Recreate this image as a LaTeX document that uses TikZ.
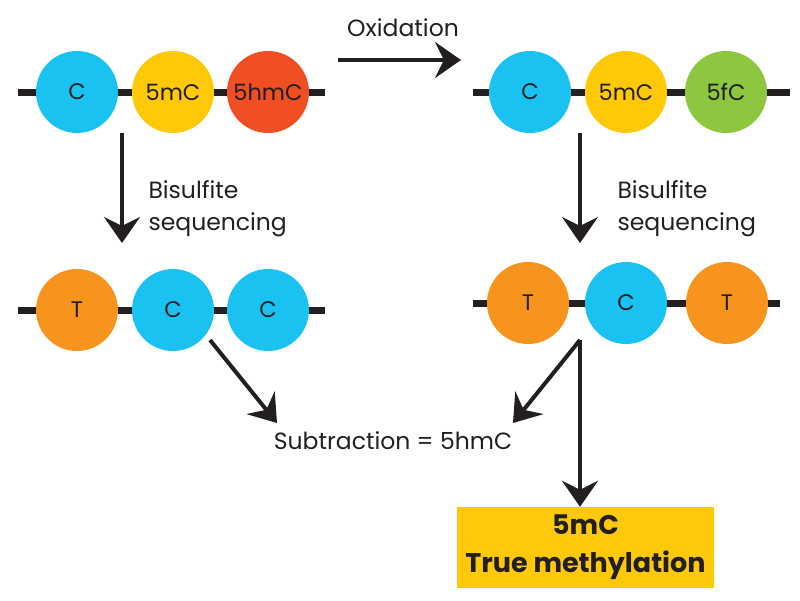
\documentclass[tikz,border=0pt]{standalone}
\usepackage{fontspec}
\setmainfont{Poppins}
\usetikzlibrary{arrows.meta}

\definecolor{ink}{HTML}{231F20}
\definecolor{cyanC}{HTML}{1AC2F2}
\definecolor{yellowC}{HTML}{FFC907}
\definecolor{redC}{HTML}{F04E23}
\definecolor{greenC}{HTML}{8DC63F}
\definecolor{orangeT}{HTML}{F7941D}
\definecolor{boxfill}{HTML}{FFC90B}

\begin{document}
\begin{tikzpicture}[x=1pt, y=-1pt, line cap=butt, line join=round,
  >={Stealth[length=26pt, width=36pt, inset=9pt]},
  base/.style={circle, minimum size=82pt, inner sep=0pt, text=ink,
    font=\fontsize{22.5}{26}\selectfont},
  strand/.style={line width=7pt, ink},
  arrow/.style={->, line width=4pt, ink},
  label/.style={text=ink, font=\fontsize{23.5}{32}\selectfont}]
\useasboundingbox (0,0) rectangle (800,600);

% --- Chuỗi ban đầu (trên trái) ---
\draw[strand] (18,92) -- (325,92);
\node[base, fill=cyanC]   (a1) at (77,92)  {C};
\node[base, fill=yellowC] (a2) at (173,92) {5mC};
\node[base, fill=redC]    (a3) at (268,92) {5hmC};

% --- Chuỗi sau oxy hoá (trên phải) ---
\draw[strand] (473,92) -- (790,92);
\node[base, fill=cyanC]   (b1) at (530,92) {C};
\node[base, fill=yellowC] (b2) at (626,92) {5mC};
\node[base, fill=greenC]  (b3) at (726,92) {5fC};

% --- Kết quả bisulfite (dưới trái) ---
\draw[strand] (18,310) -- (325,310);
\node[base, fill=orangeT] (c1) at (77,310)  {T};
\node[base, fill=cyanC]   (c2) at (173,310) {C};
\node[base, fill=cyanC]   (c3) at (268,310) {C};

% --- Kết quả oxBS (dưới phải) ---
\draw[strand] (473,303) -- (780,303);
\node[base, fill=orangeT] (d1) at (528,303) {T};
\node[base, fill=cyanC]   (d2) at (626,303) {C};
\node[base, fill=orangeT] (d3) at (727,303) {T};

% Mũi tên oxy hoá
\coordinate (oxS) at (338,60);
\coordinate (oxE) at (461,60);
\draw[arrow] (oxS) -- (oxE);
\node[label] (ox) at (403,28) {Oxidation};

% Mũi tên bisulfite
\coordinate (bsL1) at (122,133);
\coordinate (bsL2) at (122,243);
\draw[arrow] (bsL1) -- (bsL2);
\node[label, anchor=west, align=left] (bsl) at (145,209) {Bisulfite\\sequencing};

\coordinate (bsR1) at (580,133);
\coordinate (bsR2) at (580,243);
\draw[arrow] (bsR1) -- (bsR2);
\node[label, anchor=west, align=left] (bsr) at (614,209) {Bisulfite\\sequencing};

% Phép trừ
\node[label] (sub) at (393,441) {Subtraction = 5hmC};
\coordinate (sL) at (210,340);
\coordinate (sLE) at (277,423);
\draw[arrow] (sL) -- (sLE);
\coordinate (sR) at (580,340);
\coordinate (sRE) at (513,423);
\draw[arrow] (sR) -- (sRE);

% Hộp kết quả
\node[fill=boxfill, minimum width=257pt, minimum height=81pt, inner sep=0pt,
  align=center, text=ink, font=\bfseries\fontsize{27}{38}\selectfont]
  (res) at (585.5,547.5) {\raisebox{-4pt}{5mC}\\\raisebox{-4pt}{True methylation}};
\draw[arrow] (sR) -- (res.north -| sR);

\end{tikzpicture}
\end{document}
